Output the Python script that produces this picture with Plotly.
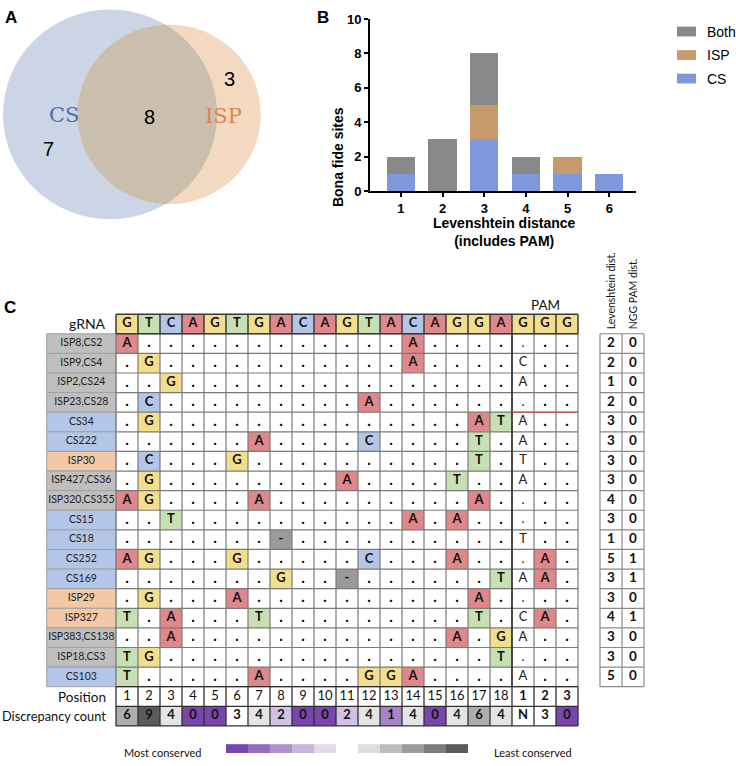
import math
import plotly.graph_objects as go

W, H = 736, 766

# ---------------- Data ----------------
# Panel A (Venn)
venn_labels = ["CS", "ISP"]
venn_cs_only = 7
venn_isp_only = 3
venn_both = 8

# Panel B (stacked bars)
lev_distance = [1, 2, 3, 4, 5, 6]
sites_cs = [1, 0, 3, 1, 1, 1]
sites_isp = [0, 0, 2, 0, 1, 0]
sites_both = [1, 3, 3, 1, 0, 0]
y_ticks = [0, 2, 4, 6, 8, 10]

# Panel C (alignment table)
grna_seq = list("GTCAGTGACAGTACAGGAGGG")
site_names = ["ISP8,CS2", "ISP9,CS4", "ISP2,CS24", "ISP23,CS28", "CS34", "CS222",
              "ISP30", "ISP427,CS36", "ISP320,CS355", "CS15", "CS18", "CS252",
              "CS169", "ISP29", "ISP327", "ISP383,CS138", "ISP18,CS3", "CS103"]
site_source = ["Both", "Both", "Both", "Both", "CS", "CS", "ISP", "Both", "Both",
               "CS", "CS", "CS", "CS", "ISP", "ISP", "Both", "Both", "CS"]
site_mismatches = [
    {1: "A", 14: "A"},
    {2: "G", 14: "A", 19: "C"},
    {3: "G", 19: "A"},
    {2: "C", 12: "A"},
    {2: "G", 17: "A", 18: "T", 19: "A"},
    {7: "A", 12: "C", 17: "T", 19: "A"},
    {2: "C", 6: "G", 17: "T", 19: "T"},
    {2: "G", 11: "A", 16: "T", 19: "A"},
    {1: "A", 2: "G", 7: "A", 17: "A"},
    {3: "T", 14: "A", 16: "A"},
    {8: "-", 19: "T"},
    {1: "A", 2: "G", 6: "G", 12: "C", 16: "A", 20: "A"},
    {8: "G", 11: "-", 18: "T", 19: "A", 20: "A"},
    {2: "G", 6: "A", 17: "A"},
    {1: "T", 3: "A", 7: "T", 17: "T", 19: "C", 20: "A"},
    {3: "A", 16: "A", 18: "G", 19: "A"},
    {1: "T", 2: "G", 18: "T"},
    {1: "T", 7: "A", 12: "G", 13: "G", 14: "A", 19: "A"},
]
levenshtein_dist = [2, 2, 1, 2, 3, 3, 3, 3, 4, 3, 1, 5, 3, 3, 4, 3, 3, 5]
ngg_pam_dist = [0, 0, 0, 0, 0, 0, 0, 0, 0, 0, 0, 1, 1, 0, 1, 0, 0, 0]
position_labels = ["1", "2", "3", "4", "5", "6", "7", "8", "9", "10", "11", "12",
                   "13", "14", "15", "16", "17", "18", "1", "2", "3"]
discrepancy_count = ["6", "9", "4", "0", "0", "3", "4", "2", "0", "0", "2", "4",
                     "1", "4", "0", "4", "6", "4", "N", "3", "0"]

# ---------------- Styles ----------------
ARIAL = "Liberation Sans, Arial, sans-serif"
TBL = "Lato, Open Sans, sans-serif"
BASE_COL = {"A": "#E0878A", "C": "#B4C6E7", "G": "#F3DE8E", "T": "#C6E0B4", "-": "#9A9A9A"}
SRC_COL = {"Both": "#BFBFBF", "CS": "#B4C6E7", "ISP": "#F2C8A6"}
BAR_COL = {"CS": "#7F98DD", "ISP": "#C7996B", "Both": "#898989"}
PURPLE, WHITE, DARK = (122, 70, 172), (255, 255, 255), (92, 90, 91)


def mix(c1, c2, t):
    return "rgb(%d,%d,%d)" % tuple(round(a + (b - a) * t) for a, b in zip(c1, c2))


def disc_color(v):
    if not v.isdigit():
        return "white"
    n = int(v)
    if n <= 3:
        return mix(PURPLE, WHITE, n / 3)
    return mix(WHITE, DARK, (n - 3) / 6)


colorbar_colors = [mix(PURPLE, WHITE, i / 5) for i in range(5)] + ["white"] + \
                  [mix(WHITE, DARK, i / 5) for i in range(1, 6)]

fig = go.Figure()
shapes = []
annotations = []

# ---------------- Panel B: bars ----------------
for name, vals in [("CS", sites_cs), ("ISP", sites_isp), ("Both", sites_both)]:
    fig.add_trace(go.Bar(x=lev_distance, y=vals, name=name, width=0.68,
                         marker=dict(color=BAR_COL[name], line=dict(width=0)),
                         xaxis="x", yaxis="y", showlegend=False, hoverinfo="skip"))


def px(x):
    return x / W


def py(y):
    return 1 - y / H


for i, name in enumerate(["Both", "ISP", "CS"]):
    yc = 25 + 24 * i
    shapes.append(dict(type="rect", xref="paper", yref="paper", x0=px(677), x1=px(696),
                       y0=py(yc - 5), y1=py(yc + 5), fillcolor=BAR_COL[name],
                       line=dict(width=0)))
    annotations.append(dict(xref="paper", yref="paper", x=px(705), y=py(yc), text=name,
                            showarrow=False, xanchor="left", yanchor="middle",
                            font=dict(family=ARIAL, size=14, color="black")))

annotations.append(dict(xref="paper", yref="paper", x=px(338), y=py(100),
                        text="Bona fide sites", textangle=-90, showarrow=False,
                        font=dict(family=ARIAL, size=14, color="black", weight="bold")))
annotations.append(dict(xref="paper", yref="paper", x=px(504), y=py(230),
                        text="Levenshtein distance<br>(includes PAM)", showarrow=False,
                        xanchor="center", yanchor="middle",
                        font=dict(family=ARIAL, size=14, color="black", weight="bold")))

# ---------------- Panel A: Venn ----------------
r_cs = 107.0
unit_area = math.pi * r_cs ** 2 / (venn_cs_only + venn_both)
r_isp = math.sqrt(unit_area * (venn_isp_only + venn_both) / math.pi)
target = unit_area * venn_both


def lens_area(d, r1, r2):
    if d >= r1 + r2:
        return 0.0
    if d <= abs(r1 - r2):
        return math.pi * min(r1, r2) ** 2
    a1 = math.acos((d * d + r1 * r1 - r2 * r2) / (2 * d * r1))
    a2 = math.acos((d * d + r2 * r2 - r1 * r1) / (2 * d * r2))
    return r1 * r1 * a1 + r2 * r2 * a2 - 0.5 * math.sqrt(
        (-d + r1 + r2) * (d + r1 - r2) * (d - r1 + r2) * (d + r1 + r2))


lo, hi = abs(r_cs - r_isp), r_cs + r_isp
for _ in range(80):
    mid = (lo + hi) / 2
    if lens_area(mid, r_cs, r_isp) > target:
        lo = mid
    else:
        hi = mid
dist = (lo + hi) / 2
cx1, cy = 110.0, 109.5
cx2 = cx1 + dist

shapes.append(dict(type="circle", xref="x2", yref="y2", x0=cx1 - r_cs, x1=cx1 + r_cs,
                   y0=cy - r_cs, y1=cy + r_cs, fillcolor="rgb(203,213,230)",
                   line=dict(width=0), layer="below"))
shapes.append(dict(type="circle", xref="x2", yref="y2", x0=cx2 - r_isp, x1=cx2 + r_isp,
                   y0=cy - r_isp, y1=cy + r_isp, fillcolor="rgb(242,217,192)",
                   line=dict(width=0), layer="below"))
a = (dist ** 2 + r_cs ** 2 - r_isp ** 2) / (2 * dist)
h = math.sqrt(r_cs ** 2 - a ** 2)
t1 = math.atan2(h, a)
t2 = math.atan2(h, a - dist)
pts = []
N = 80
for i in range(N + 1):
    t = -t1 + 2 * t1 * i / N
    pts.append((cx1 + r_cs * math.cos(t), cy + r_cs * math.sin(t)))
for i in range(N + 1):
    t = t2 + (2 * math.pi - 2 * t2) * i / N
    pts.append((cx2 + r_isp * math.cos(t), cy + r_isp * math.sin(t)))
path = "M " + " L ".join("%.2f,%.2f" % p for p in pts) + " Z"
shapes.append(dict(type="path", xref="x2", yref="y2", path=path,
                   fillcolor="rgb(202,191,172)", line=dict(width=0), layer="below"))

venn_text = [("CS", 64, 110, "#4C72B0", "DejaVu Serif", 21),
             ("ISP", 223, 111, "#DD8452", "DejaVu Serif", 21),
             (str(venn_cs_only), 48, 145, "black", ARIAL, 20),
             (str(venn_both), 149, 112, "black", ARIAL, 20),
             (str(venn_isp_only), 229, 73, "black", ARIAL, 20)]
for txt, x, y, col, fam, sz in venn_text:
    annotations.append(dict(xref="x2", yref="y2", x=x, y=y, text=txt, showarrow=False,
                            font=dict(family=fam, size=sz, color=col)))

# panel letters
for L, x, y in [("A", 11, 11), ("B", 323, 11), ("C", 10, 306)]:
    annotations.append(dict(xref="paper", yref="paper", x=px(x), y=py(y), text=L,
                            showarrow=False, xanchor="center", yanchor="middle",
                            font=dict(family=ARIAL, size=17, color="black", weight="bold")))

# ---------------- Panel C: table ----------------
NCOL = len(grna_seq)
NROW = len(site_names)
LABEL_X0 = -3.15


def rect3(x0, x1, y0, y1, fill, lc="rgba(0,0,0,0)", lw=0):
    shapes.append(dict(type="rect", xref="x3", yref="y3", x0=x0, x1=x1, y0=y0, y1=y1,
                       fillcolor=fill, line=dict(color=lc, width=lw), layer="below"))


def line3(x0, y0, x1, y1, col, w):
    shapes.append(dict(type="line", xref="x3", yref="y3", x0=x0, x1=x1, y0=y0, y1=y1,
                       line=dict(color=col, width=w), layer="below"))


# label column
for r, src in enumerate(site_source, start=1):
    rect3(LABEL_X0, 0, r, r + 1, SRC_COL[src], "#A0A0A0", 1)
# header
for k, b in enumerate(grna_seq, start=1):
    rect3(k - 1, k, 0, 1, BASE_COL[b])
# mismatch fills
for r, mm in enumerate(site_mismatches, start=1):
    for k, b in mm.items():
        if k == 19:
            continue
        rect3(k - 1, k, r, r + 1, BASE_COL[b])
# discrepancy fills
for k, v in enumerate(discrepancy_count, start=1):
    rect3(k - 1, k, 20, 21, disc_color(v))
# grid of data cells
for y in range(1, NROW + 2):
    line3(0, y, NCOL, y, "#7A7A7A", 1.2)
for x in range(0, NCOL + 1):
    line3(x, 1, x, NROW + 1, "#7A7A7A", 1.2)
line3(18, 1, 18, NROW + 1, "#202020", 1.4)
line3(18, 5, NCOL, 5, "#D04848", 1)
# header grid
for x in range(0, NCOL + 1):
    line3(x, 0, x, 1, "#3A3A3A", 1.5)
line3(0, 0, NCOL, 0, "#3A3A3A", 1.5)
line3(0, 1, NCOL, 1, "#3A3A3A", 1.5)
# position / discrepancy rows grid
for y in [19, 20, 21]:
    line3(0, y, NCOL, y, "#303030", 1.3)
for x in range(0, NCOL + 1):
    line3(x, 19, x, 21, "#303030", 1.3)
# right table
for y in range(1, NROW + 2):
    line3(22, y, 24, y, "#8A8A8A", 1.2)
for x in [22, 23, 24]:
    line3(x, 1, x, NROW + 1, "#8A8A8A", 1.2)
# colour bar
for i, c in enumerate(colorbar_colors):
    rect3(5 + i, 6 + i, 21.93, 22.38, c)

# texts
hx, hy, ht = [], [], []
for k, b in enumerate(grna_seq, start=1):
    hx.append(k - 0.5); hy.append(0.5); ht.append(b)
bx, by, bt = [], [], []      # bold mismatch letters
dx, dy = [], []              # dots
px1, py1, pt1 = [], [], []   # PAM position 1 plain text
for r, mm in enumerate(site_mismatches, start=1):
    for k in range(1, NCOL + 1):
        ch = mm.get(k, ".")
        if k == 19:
            px1.append(k - 0.5); py1.append(r + 0.5); pt1.append(ch)
        elif ch == ".":
            dx.append(k - 0.5); dy.append(r + 0.5)
        else:
            bx.append(k - 0.5); by.append(r + 0.5); bt.append(ch)


def text_trace(x, y, t, size, weight="normal", color="#111111", family=TBL):
    fig.add_trace(go.Scatter(x=x, y=y, text=t, mode="text", textposition="middle center",
                             textfont=dict(family=family, size=size, color=color, weight=weight),
                             xaxis="x3", yaxis="y3", showlegend=False, hoverinfo="skip",
                             cliponaxis=False))


text_trace(hx, hy, ht, 13, "bold")
text_trace(bx, by, bt, 13, "bold")
text_trace(dx, dy, ["."] * len(dx), 15, "bold", "#000000")
text_trace(px1, py1, pt1, 13, "normal", "#222222")
text_trace([LABEL_X0 / 2] * NROW, [r + 0.5 for r in range(1, NROW + 1)], site_names, 10.5,
           "normal", "#222222")
text_trace([k - 0.5 for k in range(1, 19)], [19.5] * 18, position_labels[:18], 13, "normal")
text_trace([k - 0.5 for k in range(19, 22)], [19.5] * 3, position_labels[18:], 13, "bold")
text_trace([k - 0.5 for k in range(1, NCOL + 1)], [20.5] * NCOL, discrepancy_count, 13, "bold")
text_trace([22.5] * NROW, [r + 0.5 for r in range(1, NROW + 1)],
           [str(v) for v in levenshtein_dist], 13.5, "bold")
text_trace([23.5] * NROW, [r + 0.5 for r in range(1, NROW + 1)],
           [str(v) for v in ngg_pam_dist], 13.5, "bold")

for txt, x, y, xa, sz in [("gRNA", -0.36, 0.5, "right", 14),
                          ("Position", -0.36, 19.5, "right", 13.5),
                          ("Discrepancy count", -0.36, 20.5, "right", 12.8),
                          ("PAM", 19.5, -0.45, "center", 13.5),
                          ("Most conserved", 3.95, 22.35, "right", 11),
                          ("Least conserved", 17.1, 22.35, "left", 11)]:
    annotations.append(dict(xref="x3", yref="y3", x=x, y=y, text=txt, showarrow=False,
                            xanchor=xa, yanchor="middle",
                            font=dict(family=TBL, size=sz, color="#111111")))
for txt, x in [("Levenshtein dist.", 22.5), ("NGG PAM dist.", 23.5)]:
    annotations.append(dict(xref="x3", yref="y3", x=x, y=0.9, text=txt, showarrow=False,
                            textangle=-90, xanchor="center", yanchor="bottom",
                            font=dict(family=TBL, size=10.5, color="#111111")))

tickfont = dict(family=ARIAL, size=13, color="black", weight="bold")
fig.update_layout(
    width=W, height=H, autosize=False,
    margin=dict(l=0, r=0, t=0, b=0),
    paper_bgcolor="white", plot_bgcolor="rgba(0,0,0,0)",
    barmode="stack", bargap=0.3,
    showlegend=False,
    xaxis=dict(domain=[370 / W, 636 / W], range=[0.26, 6.64], tickvals=lev_distance,
               ticks="outside", ticklen=4, tickwidth=2, tickcolor="black",
               showline=True, linewidth=2, linecolor="black", showgrid=False,
               zeroline=False, tickfont=tickfont, anchor="y", fixedrange=True),
    yaxis=dict(domain=[1 - 187.7 / H, 1 - 12.3 / H], range=[0, 10], tickvals=y_ticks,
               ticks="outside", ticklen=4, tickwidth=2, tickcolor="black",
               showline=True, linewidth=2, linecolor="black", showgrid=False,
               zeroline=False, tickfont=tickfont, anchor="x", fixedrange=True),
    xaxis2=dict(domain=[0, 1], range=[0, W], visible=False, anchor="y2", fixedrange=True),
    yaxis2=dict(domain=[0, 1], range=[H, 0], visible=False, anchor="x2", fixedrange=True),
    xaxis3=dict(domain=[0, 1], range=[-116 / 22, (W - 116) / 22], visible=False,
                anchor="y3", fixedrange=True),
    yaxis3=dict(domain=[0, 1], range=[(H - 313.3) / 20, -313.3 / 20], visible=False,
                anchor="x3", fixedrange=True),
    shapes=shapes,
    annotations=annotations,
)

fig.write_html("out.html", config={"displayModeBar": False},
               post_script="document.body.style.margin='0';document.body.style.overflow='hidden';")
